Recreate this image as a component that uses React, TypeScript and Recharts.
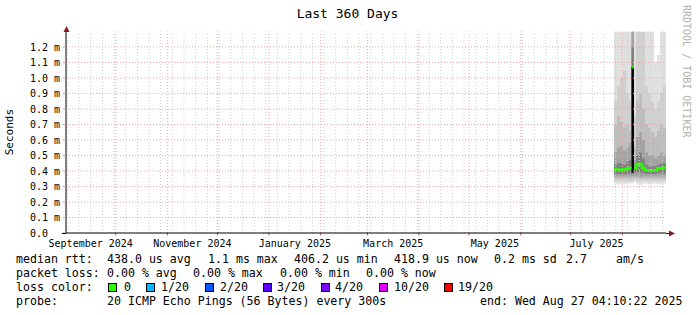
import React from "react";
import { ComposedChart, Area, Line, XAxis, YAxis, ReferenceLine } from "recharts";

const FONT = '"DejaVu Sans Mono", monospace';

// x axis: days since start of window (Sep 1 2024 04:10:22), 360 days total
const labelDays = [14.826, 75.826, 137.326, 196.326, 257.326, 318.326];
const labelTexts = ["September 2024", "November 2024", "January 2025", "March 2025", "May 2025", "July 2025"];
const monthStartDays = [29.826, 60.826, 90.826, 121.826, 152.826, 180.826, 211.826, 241.826, 272.826, 302.826, 333.826];
const firstMondayDay = 0.826;
const yTicks = [0, 0.1, 0.2, 0.3, 0.4, 0.5, 0.6, 0.7, 0.8, 0.9, 1.0, 1.1, 1.2];

// smoke columns (ms)
const smokeDays = [328.8, 330.6, 332.4, 334.2, 336.0, 337.8, 339.3, 340.8, 342.0, 343.8, 345.6, 347.4, 349.2, 351.0, 352.8, 354.6, 356.4, 358.2, 360];
const band1Lo = [0.32, 0.315, 0.32, 0.315, 0.32, 0.32, 0.32, 0.33, 0.32, 0.31, 0.32, 0.32, 0.315, 0.32, 0.32, 0.315, 0.32, 0.32, 0.32];
const band1Hi = [1.3, 1.3, 1.3, 1.3, 1.3, 1.3, 1.3, 1.3, 1.3, 1.3, 1.3, 1.3, 1.3, 1.3, 1.1, 1.15, 1.3, 1.3, 1.3];
const band2Lo = [0.335, 0.335, 0.335, 0.335, 0.335, 0.335, 0.335, 0.34, 0.335, 0.33, 0.335, 0.335, 0.335, 0.335, 0.335, 0.335, 0.335, 0.335, 0.335];
const band2Hi = [0.85, 0.95, 1.0, 1.05, 0.9, 0.85, 1.3, 0.75, 1.3, 1.3, 1.3, 0.95, 0.9, 0.85, 0.8, 0.85, 0.9, 0.95, 0.95];
const band3Lo = [0.35, 0.35, 0.35, 0.35, 0.35, 0.35, 0.35, 0.355, 0.35, 0.345, 0.35, 0.35, 0.35, 0.35, 0.35, 0.35, 0.35, 0.35, 0.35];
const band3Hi = [0.7, 0.75, 0.72, 0.68, 0.7, 0.66, 1.3, 0.55, 0.85, 0.9, 0.8, 0.7, 0.68, 0.65, 0.62, 0.66, 0.7, 0.68, 0.68];
const band4Lo = [0.365, 0.365, 0.365, 0.365, 0.365, 0.365, 0.365, 0.37, 0.365, 0.36, 0.365, 0.365, 0.365, 0.365, 0.365, 0.365, 0.365, 0.365, 0.365];
const band4Hi = [0.52, 0.55, 0.56, 0.53, 0.55, 0.58, 1.3, 0.47, 0.62, 0.65, 0.6, 0.52, 0.5, 0.5, 0.48, 0.5, 0.52, 0.5, 0.5];
const band5Lo = [0.38, 0.38, 0.38, 0.38, 0.38, 0.385, 0.38, 0.39, 0.39, 0.39, 0.385, 0.38, 0.38, 0.38, 0.38, 0.385, 0.385, 0.385, 0.385];
const band5Hi = [0.44, 0.45, 0.45, 0.44, 0.46, 0.47, 1.2, 0.44, 0.5, 0.52, 0.48, 0.44, 0.43, 0.43, 0.43, 0.44, 0.45, 0.45, 0.45];

// black spike column
const spikeDays = [339.3, 340.8];
const spikeLo = [0.39, 0.39];
const spikeHi = [1.07, 1.07];

// median rtt (ms)
const medianDays = [328.8, 330.6, 332.4, 334.2, 336.0, 337.8, 339.3, 339.35, 339.6, 340.5, 340.6, 340.8, 342.0, 343.8, 345.6, 347.4, 349.2, 351.0, 352.8, 354.6, 356.4, 358.2, 360];
const medianValues: (number | null)[] = [0.41, 0.41, 0.405, 0.41, 0.415, 0.42, 0.42, null, 1.07, 1.07, null, 0.42, 0.44, 0.445, 0.42, 0.405, 0.405, 0.405, 0.405, 0.418, 0.42, 0.422, 0.422];

const lossColors = ["#26ff00", "#00b8ff", "#0059ff", "#5e00ff", "#7e00ff", "#dd00ff", "#ff0000"];
const lossLabels = ["0", "1/20", "2/20", "3/20", "4/20", "10/20", "19/20"];

const smokeRows = smokeDays.map((d, i) => ({
  d,
  b1: [band1Lo[i], band1Hi[i]],
  b2: [band2Lo[i], band2Hi[i]],
  b3: [band3Lo[i], band3Hi[i]],
  b4: [band4Lo[i], band4Hi[i]],
  b5: [band5Lo[i], band5Hi[i]],
}));
const spikeRows = spikeDays.map((d, i) => ({ d, v: [spikeLo[i], spikeHi[i]] }));
const medianRows = medianDays.map((d, i) => ({ d, m: medianValues[i] }));

const weekDays: number[] = [];
for (let w = firstMondayDay; w < 360; w += 7) weekDays.push(w);

const XTick = (props: any) => {
  const { x, y, payload } = props;
  const idx = labelDays.indexOf(payload.value);
  return (
    <text x={x} y={y + 12} textAnchor="middle" fontFamily={FONT} fontSize={10} fill="#000">
      {idx >= 0 ? labelTexts[idx] : ""}
    </text>
  );
};

const YTick = (props: any) => {
  const { y, payload } = props;
  const v = payload.value as number;
  return (
    <text x={30} y={y + 3.5} textAnchor="start" fontFamily={FONT} fontSize={10} fill="#000">
      {v === 0 ? "0.0" : `${v.toFixed(1)} m`}
    </text>
  );
};

const T = ({ x, y, children, size = 11.6 }: any) => (
  <div
    style={{
      position: "absolute",
      left: x,
      top: y,
      fontFamily: FONT,
      fontSize: size,
      lineHeight: "14px",
      whiteSpace: "pre",
      color: "#000",
    }}
  >
    {children}
  </div>
);

const boxX = [108, 146, 205, 263, 321, 379, 444];
const boxLabelX = [124, 161, 220, 277, 335, 394, 458];

const MAJOR = "#eba8a8";
const MINOR = "#cfcfcf";

export default function App() {
  return (
    <div style={{ position: "absolute", left: 0, top: 0, width: 697, height: 315, background: "#fff", overflow: "hidden" }}>
      <ComposedChart width={697} height={315} margin={{ top: 31.5, right: 31, bottom: 0, left: 0 }} data={smokeRows}>
        <XAxis
          dataKey="d"
          type="number"
          domain={[0, 360]}
          ticks={labelDays}
          interval={0}
          tickLine={false}
          tickSize={0}
          axisLine={{ stroke: "#000" }}
          height={82}
          tick={<XTick />}
          allowDataOverflow
        />
        <YAxis
          type="number"
          domain={[0, 1.3]}
          ticks={yTicks}
          interval={0}
          width={66}
          tickSize={3}
          tickLine={{ stroke: "#c89a9a" }}
          axisLine={{ stroke: "#000" }}
          tick={<YTick />}
          allowDataOverflow
        />
        <Area dataKey="b1" type="stepAfter" fill="#e0e0e0" fillOpacity={1} stroke="none" dot={false} activeDot={false} isAnimationActive={false} />
        <Area dataKey="b2" type="stepAfter" fill="#d0d0d0" fillOpacity={1} stroke="none" dot={false} activeDot={false} isAnimationActive={false} />
        <Area dataKey="b3" type="stepAfter" fill="#bdbdbd" fillOpacity={1} stroke="none" dot={false} activeDot={false} isAnimationActive={false} />
        <Area dataKey="b4" type="stepAfter" fill="#a3a3a3" fillOpacity={1} stroke="none" dot={false} activeDot={false} isAnimationActive={false} />
        <Area dataKey="b5" type="stepAfter" fill="#808080" fillOpacity={1} stroke="none" dot={false} activeDot={false} isAnimationActive={false} />
        <Area data={spikeRows} dataKey="v" type="linear" fill="#000" fillOpacity={1} stroke="none" dot={false} activeDot={false} isAnimationActive={false} />
        <Line data={medianRows} dataKey="m" type="stepAfter" stroke="#26ff00" strokeWidth={2.5} dot={false} activeDot={false} connectNulls={false} isAnimationActive={false} />
        {weekDays.map((d) => (
          <ReferenceLine key={"w" + d} x={d} stroke={MINOR} strokeDasharray="1 2" />
        ))}
        {monthStartDays.map((d) => (
          <ReferenceLine key={"m" + d} x={d} stroke={MAJOR} strokeDasharray="1 2" />
        ))}
        {monthStartDays.map((d) => (
          <ReferenceLine
            key={"mt" + d}
            segment={[{ x: d, y: 0 }, { x: d, y: -0.016 }]}
            stroke="#d05050"
            ifOverflow="visible"
          />
        ))}
        {yTicks.filter((v) => v > 0).map((v) => (
          <ReferenceLine key={"h" + v} y={v} stroke={MAJOR} strokeDasharray="1 2" />
        ))}
      </ComposedChart>

      <svg width={697} height={315} style={{ position: "absolute", left: 0, top: 0, pointerEvents: "none" }}>
        <line x1={66.5} y1={31.5} x2={66.5} y2={29} stroke="#000" />
        <polygon points="63.5,32 69.5,32 66.5,26" fill="#8b1a1a" />
        <line x1={666} y1={233.5} x2={670} y2={233.5} stroke="#000" />
        <line x1={62} y1={233.5} x2={66} y2={233.5} stroke="#000" />
        <polygon points="669,230.5 669,236.5 675,233.5" fill="#8b1a1a" />
      </svg>

      <div
        style={{
          position: "absolute",
          left: 0,
          top: 6,
          width: 695,
          textAlign: "center",
          fontFamily: FONT,
          fontSize: 13,
          lineHeight: "15px",
          color: "#000",
        }}
      >
        Last 360 Days
      </div>

      <div
        style={{
          position: "absolute",
          left: 4,
          top: 109,
          writingMode: "vertical-rl",
          transform: "rotate(180deg)",
          fontFamily: FONT,
          fontSize: 11,
          lineHeight: "12px",
          color: "#000",
        }}
      >
        Seconds
      </div>

      <div
        style={{
          position: "absolute",
          left: 681,
          top: 5,
          writingMode: "vertical-rl",
          fontFamily: FONT,
          fontSize: 10,
          lineHeight: "10px",
          color: "#b0b0b0",
          whiteSpace: "pre",
        }}
      >
        RRDTOOL / TOBI OETIKER
      </div>

      <T x={16} y={252}>median rtt:</T>
      <T x={107} y={252}>438.0 us avg</T>
      <T x={208} y={252}>1.1 ms max</T>
      <T x={294} y={252}>406.2 us min</T>
      <T x={394} y={252}>418.9 us now</T>
      <T x={494} y={252}>0.2 ms sd</T>
      <T x={566} y={252}>2.7</T>
      <T x={616} y={252}>am/s</T>

      <T x={16} y={266}>packet loss:</T>
      <T x={107} y={266}>0.00 % avg</T>
      <T x={193} y={266}>0.00 % max</T>
      <T x={280} y={266}>0.00 % min</T>
      <T x={366} y={266}>0.00 % now</T>

      <T x={16} y={280}>loss color:</T>
      {lossColors.map((c, i) => (
        <div
          key={c}
          style={{
            position: "absolute",
            left: boxX[i],
            top: 283,
            width: 9,
            height: 9,
            boxSizing: "border-box",
            border: "1px solid #000",
            background: c,
          }}
        />
      ))}
      {lossLabels.map((l, i) => (
        <T key={l} x={boxLabelX[i]} y={280}>
          {l}
        </T>
      ))}

      <T x={16} y={294}>probe:</T>
      <T x={107} y={294}>20 ICMP Echo Pings (56 Bytes) every 300s</T>
      <T x={480} y={294}>end: Wed Aug 27 04:10:22 2025</T>
    </div>
  );
}
